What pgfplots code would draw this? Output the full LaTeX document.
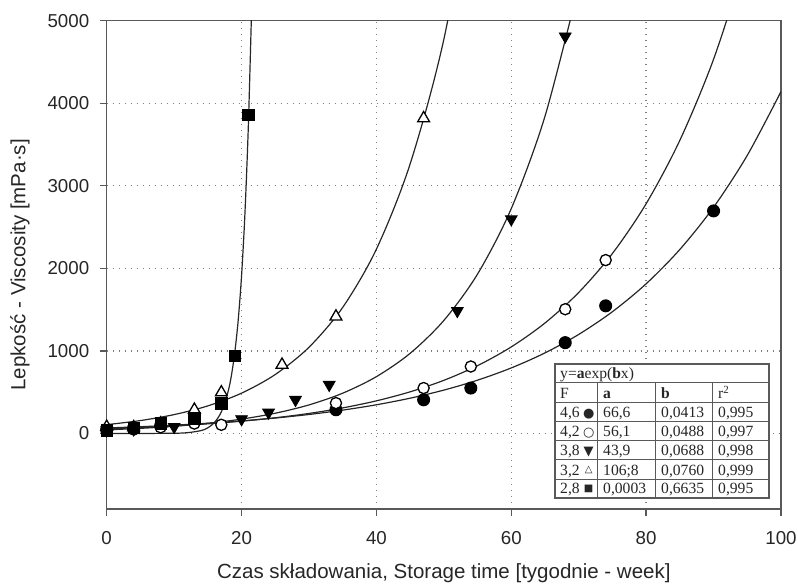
\documentclass[border=0pt]{standalone}
\usepackage{fontspec}
\setmainfont{Liberation Sans}
\newfontfamily\tabfont{Liberation Serif}
\newfontfamily\symfont{DejaVu Sans}
\usepackage{pgfplots}
\pgfplotsset{compat=1.18}

\definecolor{axisgray}{gray}{0.35}
\definecolor{gridgray}{gray}{0.5}
\newcommand\tf{\tabfont\fontsize{15.6}{18}\selectfont}
\newcommand\symf{\symfont\fontsize{13}{15}\selectfont}
\newcommand\symsm{\symfont\fontsize{10}{12}\selectfont}

\pgfplotsset{
  curve/.style={black!85, line width=1.2pt, smooth, no marks},
  mkfull/.style={only marks, mark=*, mark size=6pt, mark options={draw=black, fill=black, line width=1pt}},
  mkopen/.style={only marks, mark=*, mark size=5.6pt, mark options={draw=black, fill=white, line width=1.3pt}},
  mkdown/.style={only marks, mark=triangle*, mark size=6.8pt, mark options={draw=black, fill=black, rotate=180, line width=0.8pt}},
  mkup/.style={only marks, mark=triangle*, mark size=6.8pt, mark options={draw=black, fill=white, line width=1.3pt}},
  mksq/.style={only marks, mark=square*, mark size=5.7pt, mark options={draw=black, fill=black}},
}

\newcommand\cell[3]{\node[anchor=base west, font=\tf] at (#1,#2) {#3};}

\begin{document}
\begin{tikzpicture}[x=1pt,y=1pt]
\useasboundingbox (-106.7,-77) rectangle (691.3,509);
\begin{axis}[
  at={(0,0)}, anchor=south west,
  scale only axis, width=674.3pt, height=488.3pt,
  xmin=0, xmax=100, ymin=-915, ymax=5000,
  xtick={0,20,...,100}, ytick={0,1000,...,5000},
  xtick pos=bottom, ytick pos=left, tick align=outside,
  major tick length=7pt,
  grid=major,
  grid style={gridgray, line width=1.4pt, dash pattern=on 1.4pt off 4.6pt},
  axis line style={axisgray, line width=1.4pt},
  tick style={axisgray, line width=1.4pt},
  /pgf/number format/assume math mode=true,
  /pgf/number format/set thousands separator={},
  tick label style={font=\fontsize{18.7}{20}\selectfont, text=black!85},
  xticklabel style={yshift=-12pt},
  yticklabel style={xshift=-7pt},
  xlabel={Czas składowania, Storage time [tygodnie - week]},
  ylabel={Lepkość - Viscosity [mPa·s]},
  label style={font=\fontsize{20.5}{24}\selectfont, text=black!85},
  xlabel style={at={(axis description cs:0.5,-0.131)}, anchor=center},
  ylabel style={at={(axis description cs:-0.1286,0.5)}, anchor=center},
]
% fitted curves y = a exp(bx)
\addplot[curve] coordinates {
(0,66.6) (5,81.9) (10,100.6) (15,123.7) (20,152.1) (25,187.0) (30,229.9) (35,282.7)
(40,347.5) (45,427.2) (50,525.2) (55,645.6) (60,793.7) (65,975.8) (70,1199.6)
(75,1474.8) (80,1813) (85,2229) (90,2740) (95,3369) (100,4141)};
\addplot[curve] coordinates {
(0,56.1) (5,71.6) (10,91.4) (15,116.6) (20,148.9) (25,190.0) (30,242.5) (35,309.5)
(40,395.1) (45,504.3) (50,643.6) (55,821.5) (60,1048.5) (65,1338) (70,1708)
(75,2180) (80,2783) (85,3551) (90,4533) (95,5785)};
\addplot[curve] coordinates {
(0,43.9) (5,61.9) (10,87.3) (15,123.2) (20,173.8) (25,245.2) (30,345.8) (35,487.8)
(40,688.1) (45,970.6) (50,1369) (55,1931) (60,2724) (65,3843) (70,5421)};
\addplot[curve] coordinates {
(0,106.8) (5,156.2) (10,228.4) (15,334.0) (20,488.3) (25,714.1) (30,1044.2)
(35,1527) (40,2233) (45,3265) (50,4774) (55,6981)};
\addplot[curve] coordinates {
(0,0) (5,0.1) (10,2.5) (12,9.5) (14,35) (15,68) (16,135) (17,261) (18,507)
(18.5,705) (19,985) (19.5,1370) (20,1910) (20.5,2663) (21,3710) (21.5,5170)};
% measured points
\addplot[mkfull] coordinates {
(0,40) (4,55) (8,95) (34,287) (47,408) (54,550) (68,1100) (74,1546) (90,2696)};
\addplot[mkopen] coordinates {
(0,55) (4,70) (8,75) (13,120) (17,105) (34,368) (47,550) (54,811) (68,1505) (74,2100)};
\addplot[mkdown] coordinates {
(0,40) (4,50) (10,80) (20,174) (24,254) (28,408) (33,590) (52,1485) (60,2596) (68,4810)};
\addplot[mkup] coordinates {
(0,80) (4,75) (8,120) (13,287) (17,497) (26,832) (34,1416) (47,3818)};
\addplot[mksq] coordinates {
(0,40) (4,70) (8,125) (13,186) (17,365) (19,940) (21,3858)};
\end{axis}

% parameter table
\begin{scope}[every node/.style={inner sep=0pt, text=black!85}]
\fill[white] (446,8) rectangle (665,148);
\draw[gray!70!black, line width=1.1pt] (448.3,11) rectangle (662.3,145);
\foreach \yy in {126,106,87,68,49,29}
  \draw[gray!70!black, line width=1pt] (448.3,\yy) -- (662.3,\yy);
\foreach \xx in {490.3,548.3,605.3}
  \draw[gray!70!black, line width=1pt] (\xx,11) -- (\xx,126);
\cell{453.3}{130}{y=\textbf{a}exp(\textbf{b}x)}
\cell{453.3}{110}{F}
\cell{496.3}{110}{\textbf{a}}
\cell{554.3}{110}{\textbf{b}}
\cell{611.3}{110}{r\textsuperscript{2}}
\cell{453.3}{91}{4,6}   \cell{496.3}{91}{66,6}   \cell{554.3}{91}{0,0413}   \cell{611.3}{91}{0,995}
\cell{453.3}{72}{4,2}   \cell{496.3}{72}{56,1}   \cell{554.3}{72}{0,0488}   \cell{611.3}{72}{0,997}
\cell{453.3}{53}{3,8}   \cell{496.3}{53}{43,9}   \cell{554.3}{53}{0,0688}   \cell{611.3}{53}{0,998}
\cell{453.3}{33.5}{3,2} \cell{496.3}{33.5}{106;8} \cell{554.3}{33.5}{0,0760} \cell{611.3}{33.5}{0,999}
\cell{453.3}{15}{2,8}   \cell{496.3}{15}{0,0003} \cell{554.3}{15}{0,6635} \cell{611.3}{15}{0,995}
\node[anchor=base, font=\symf] at (482,91) {●};
\node[anchor=base, font=\symf] at (482,72) {○};
\node[anchor=base, font=\symf] at (482,53) {▼};
\node[anchor=base, font=\symsm] at (482,36) {△};
\node[anchor=base, font=\symsm] at (482,17) {■};
\end{scope}
\end{tikzpicture}
\end{document}
